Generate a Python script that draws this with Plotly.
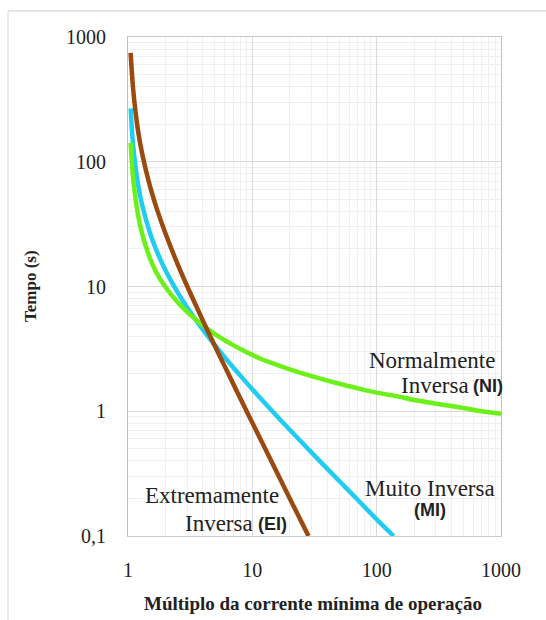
import plotly.graph_objects as go

# Multiple of minimum operating current (x) and trip time in seconds (y)
m_ni = [1.05, 1.1, 1.2, 1.3, 1.5, 1.7, 2, 2.5, 3, 4, 5, 6, 7, 8, 10, 12,
        15, 20, 30, 50, 70, 100, 150, 200, 300, 500, 700, 1000]
t_ni = [142, 73.4, 38.3, 26.4, 16.9, 12.8, 9.9, 7.5, 6.22, 4.88, 4.15, 3.71,
        3.39, 3.16, 2.83, 2.6, 2.4, 2.17, 1.91, 1.66, 1.53, 1.41, 1.31, 1.23,
        1.15, 1.06, 1.00, 0.955]

m_mi = [1.05, 1.1, 1.2, 1.3, 1.5, 1.7, 2, 2.5, 3, 4, 5, 6, 7, 8, 10,
        15, 20, 30, 50, 70, 100, 137]
t_mi = [268, 135, 67.5, 45, 27, 19.3, 13.5, 9.0, 6.75, 4.5, 3.38, 2.7, 2.25,
        1.93, 1.5, 0.964, 0.711, 0.466, 0.276, 0.196, 0.136, 0.1]

m_ei = [1.05, 1.1, 1.2, 1.3, 1.5, 1.7, 2, 2.5, 3, 4, 5, 6, 7, 8, 10,
        15, 20, 28.3]
t_ei = [745, 381, 182, 116, 64, 42.3, 26.7, 15.2, 10.0, 5.33, 3.33, 2.29,
        1.67, 1.27, 0.808, 0.357, 0.2, 0.1]

x_ticks = [1, 10, 100, 1000]
x_tick_text = ["1", "10", "100", "1000"]
y_ticks = [0.1, 1, 10, 100, 1000]
y_tick_text = ["0,1", "1", "10", "100", "1000"]

W, H = 546, 620
L, R, T, B = 128, 45, 37, 84
PW, PH = W - L - R, H - T - B


def px(x):
    return (x - L) / PW


def py(y):
    return (H - B - y) / PH


SERIF = "Liberation Serif"
SANS = "Liberation Sans"

fig = go.Figure()
fig.add_trace(go.Scatter(x=m_mi, y=t_mi, mode="lines", name="MI",
                         line=dict(color="#20ccf2", width=4.5, shape="spline", smoothing=0.8)))
fig.add_trace(go.Scatter(x=m_ni, y=t_ni, mode="lines", name="NI",
                         line=dict(color="#6cf01a", width=4.5, shape="spline", smoothing=0.8)))
fig.add_trace(go.Scatter(x=m_ei, y=t_ei, mode="lines", name="EI",
                         line=dict(color="#9a4a0e", width=4.5, shape="spline", smoothing=0.8)))

axis_common = dict(
    type="log",
    showline=True, linecolor="#d4d4d4", linewidth=1, mirror=True,
    showgrid=True, gridcolor="#dadada", gridwidth=1,
    ticks="", zeroline=False,
    tickfont=dict(family=SERIF, size=20, color="#222222"),
    minor=dict(showgrid=True, gridcolor="#efefef", gridwidth=1, dtick="D1", ticks=""),
)

fig.update_xaxes(range=[0, 3], tickmode="array", tickvals=x_ticks,
                 ticktext=x_tick_text, ticklabelstandoff=16, **axis_common)
fig.update_yaxes(range=[-1, 3], tickmode="array", tickvals=y_ticks,
                 ticktext=y_tick_text, ticklabelstandoff=17, **axis_common)
fig.update_yaxes(linecolor="#c0c0c0")
fig.update_xaxes(linecolor="#c8c8c8")

ann = []


def label(text, x, y, size=23, family=SERIF, xanchor="center", angle=0):
    ann.append(dict(text=text, x=px(x), y=py(y), xref="paper", yref="paper",
                    xanchor=xanchor, yanchor="middle", showarrow=False,
                    textangle=angle,
                    font=dict(family=family, size=size, color="#222222")))


label("Normalmente", 497, 360, xanchor="right")
label("Inversa", 471, 385, xanchor="right")
label("<b>(NI)</b>", 471, 386, size=18, family=SANS, xanchor="left")
label("Muito Inversa", 430, 488)
label("<b>(MI)</b>", 430, 510, size=18, family=SANS)
label("Extremamente", 212, 495)
label("Inversa", 255, 523, xanchor="right")
label("<b>(EI)</b>", 256, 524, size=18, family=SANS, xanchor="left")
label("<b>Múltiplo da corrente mínima de operação</b>", 313, 603, size=19)
label("<b>Tempo (s)</b>", 30, 286, size=17, angle=-90)

fig.update_layout(
    width=W, height=H,
    margin=dict(l=L, r=R, t=T, b=B),
    paper_bgcolor="white", plot_bgcolor="white",
    showlegend=False,
    annotations=ann,
    shapes=[
        dict(type="line", xref="paper", yref="paper", x0=px(8), x1=px(W), y0=py(11), y1=py(11),
             line=dict(color="#dddddd", width=1.5)),
        dict(type="line", xref="paper", yref="paper", x0=px(8), x1=px(8), y0=py(11), y1=py(H),
             line=dict(color="#e6e6e6", width=1.5)),
    ],
)

fig.write_html("out.html")
